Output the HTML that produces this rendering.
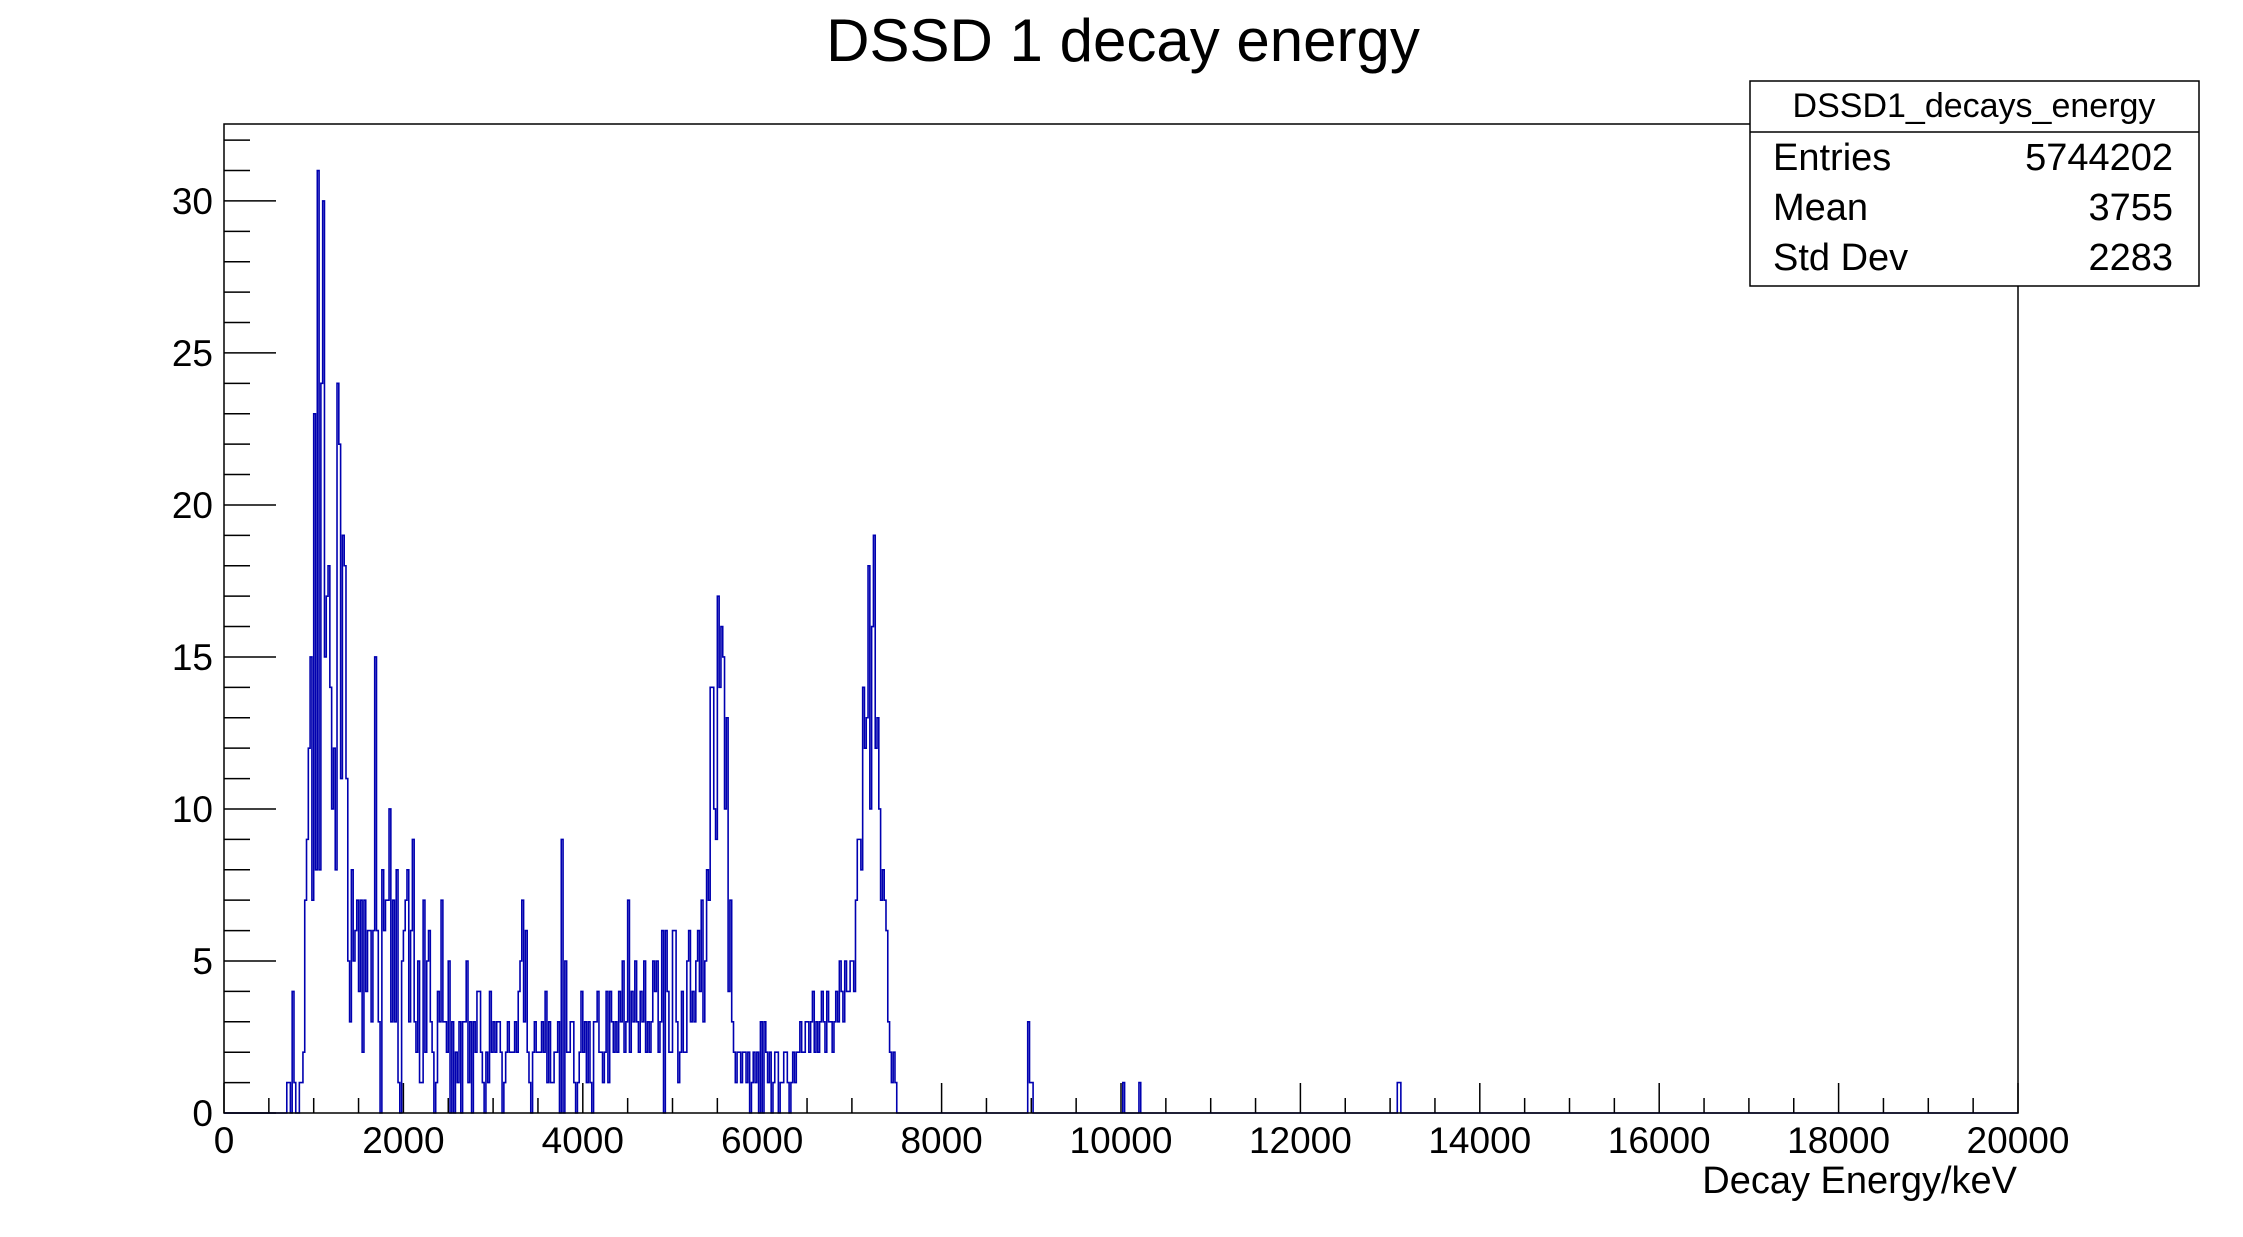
<!DOCTYPE html>
<html><head><meta charset="utf-8"><style>
html,body{margin:0;padding:0;background:#fff;}
svg{display:block;font-family:"Liberation Sans",sans-serif;}
</style></head><body>
<svg id="chart" width="2243" height="1237" viewBox="0 0 2243 1237" xmlns="http://www.w3.org/2000/svg">
<rect x="0" y="0" width="2243" height="1237" fill="#fff"/>
<text x="1123" y="61" font-size="60" text-anchor="middle" fill="#000">DSSD 1 decay energy</text>
<g id="axes"></g>
<path id="hist" fill="none" stroke="#0000b0" stroke-width="1.6"/>
<rect x="224" y="124" width="1794" height="989" fill="none" stroke="#000" stroke-width="1.5"/>
<text x="2017" y="1193" font-size="38" text-anchor="end">Decay Energy/keV</text>
<g>
<rect x="1750" y="81" width="449" height="205" fill="#fff" stroke="#000" stroke-width="1.5"/>
<line x1="1750" y1="132" x2="2199" y2="132" stroke="#000" stroke-width="1.5"/>
<text x="1974" y="117" font-size="34" text-anchor="middle">DSSD1_decays_energy</text>
<text x="1773" y="170" font-size="38">Entries</text>
<text x="2173" y="170" font-size="38" text-anchor="end">5744202</text>
<text x="1773" y="220" font-size="38">Mean</text>
<text x="2173" y="220" font-size="38" text-anchor="end">3755</text>
<text x="1773" y="270" font-size="38">Std Dev</text>
<text x="2173" y="270" font-size="38" text-anchor="end">2283</text>
</g>
</svg>
<script>
const binWidth = 20;
const startEnergy = 700;
const counts = [
1,1,0,4,1,0,0,1,1,2,7,9,12,15,7,
23,8,31,8,24,30,15,17,18,14,10,12,8,24,22,11,19,18,11,5,
3,8,5,6,7,4,7,2,7,4,6,6,3,6,15,6,3,0,8,6,7,7,10,3,7,3,8,1,0,5,
6,7,8,3,6,9,3,2,5,1,1,7,2,5,6,3,2,0,1,4,3,7,3,3,2,5,0,3,0,2,
1,3,0,3,3,5,1,3,0,3,2,4,4,2,1,0,2,1,4,2,3,2,3,3,2,0,1,2,3,2,2,2,3,2,4,
5,7,3,6,2,1,0,2,3,2,2,2,3,2,4,1,3,1,1,2,2,3,0,9,0,
5,2,2,3,3,1,0,1,2,4,2,3,1,3,1,0,3,3,4,2,2,1,2,4,1,4,3,2,3,2,4,3,5,2,3,
7,2,4,3,5,3,2,4,3,5,2,3,2,3,5,4,5,2,3,6,0,6,4,2,2,
6,6,3,1,2,4,2,2,5,6,3,4,3,5,6,4,7,3,5,8,7,14,14,10,9,17,14,16,15,10,13,4,7,3,2,1,2,2,1,2,
2,1,2,0,1,2,1,2,0,3,0,3,2,1,2,0,1,2,2,0,1,1,2,2,1,0,1,2,1,2,2,3,2,2,3,3,2,3,4,2,
3,2,3,4,3,2,4,3,3,2,3,4,3,5,4,3,5,4,4,5,5,4,7,9,9,8,14,12,13,18,10,16,19,12,13,10,7,8,7,6,3,2,1,2,1,0,
0,0,0,0,0,0,0,0,0,0,0,0,0,0,0,0,0,0,0,0,0,0,0,0,0,0,0,0,0,0,0,0,0,0,0,0,0,0,0,0,
0,0,0,0,0,0,0,0,0,0,0,0,0,0,0,0,0,0,0,0,0,0,0,0,0,0,0,0,0,0,0,0,3,1,1
];
const extraEnergy = [10020, 10200, 13080, 13100];
const extraCounts = [1, 1, 1, 1];
const xTickLabels = ["0","2000","4000","6000","8000","10000","12000","14000","16000","18000","20000"];
const yTickLabels = ["0","5","10","15","20","25","30"];

const X0 = 224, X1 = 2018, Y0 = 1113, Y1 = 124;
const xMax = 20000, yMax = 32.53;
function xs(e){ return X0 + (e / xMax) * (X1 - X0); }
function ys(v){ return Y0 - (v / yMax) * (Y0 - Y1); }

// full bin array
const nBins = xMax / binWidth;
const full = new Array(nBins).fill(0);
counts.forEach((c, i) => { const b = Math.round(startEnergy / binWidth) + i; if (b < nBins) full[b] = c; });
extraEnergy.forEach((e, i) => { full[Math.round(e / binWidth)] = extraCounts[i]; });

let d = "M" + xs(0) + "," + ys(0);
for (let b = 0; b < nBins; b++) {
  const xa = xs(b * binWidth), xb = xs((b + 1) * binWidth), y = ys(full[b]);
  d += " L" + xa.toFixed(2) + "," + y.toFixed(2) + " L" + xb.toFixed(2) + "," + y.toFixed(2);
}
document.getElementById('hist').setAttribute('d', d);

const NS = "http://www.w3.org/2000/svg";
const axes = document.getElementById('axes');
function mk(tag, attrs){ const el = document.createElementNS(NS, tag); for (const k in attrs) el.setAttribute(k, attrs[k]); axes.appendChild(el); return el; }

// x ticks
for (let e = 0; e <= xMax; e += 500) {
  const major = e % 2000 === 0;
  const t = mk('line', {x1: xs(e), x2: xs(e), y1: Y0, y2: Y0 - (major ? 30 : 15), stroke: '#000', 'stroke-width': 1.5});
  
  
}
xTickLabels.forEach((lab, i) => {
  const t = mk('text', {x: xs(Number(lab)), y: 1153, 'font-size': 37, 'text-anchor': 'middle'});
  t.textContent = lab;
  
  
});
// y ticks
for (let v = 0; v <= 32; v += 1) {
  const major = v % 5 === 0;
  const t = mk('line', {x1: X0, x2: X0 + (major ? 52 : 26), y1: ys(v), y2: ys(v), stroke: '#000', 'stroke-width': 1.5});
  
  
}
yTickLabels.forEach((lab) => {
  const t = mk('text', {x: 213, y: ys(Number(lab)) + 13, 'font-size': 37, 'text-anchor': 'end'});
  t.textContent = lab;
  
  
});
</script>
</body></html>
